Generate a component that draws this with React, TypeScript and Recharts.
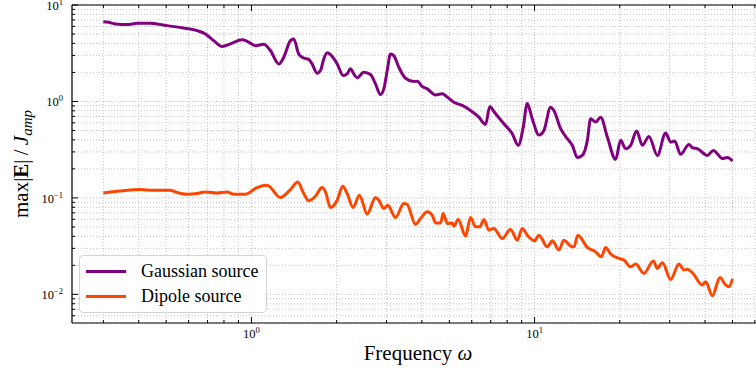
import { LineChart, Line, XAxis, YAxis, CartesianGrid, Legend } from "recharts";

// frequency sweep, Gaussian source
const gaussFreq = [
  0.30, 0.313, 0.331, 0.364, 0.395, 0.440, 0.464, 0.504, 0.576, 0.643,
  0.688, 0.736, 0.788, 0.843, 0.927, 0.966, 1.033, 1.105, 1.167, 1.249,
  1.301, 1.373, 1.411, 1.469, 1.530, 1.594, 1.638, 1.707, 1.753, 1.801,
  1.851, 1.929, 2.009, 2.109, 2.178, 2.238, 2.299, 2.363, 2.494, 2.634,
  2.743, 2.856, 2.935, 3.017, 3.099, 3.183, 3.316, 3.501, 3.746, 3.851,
  4.011, 4.177, 4.468, 4.720, 4.916, 5.186, 5.553, 5.941, 6.357, 6.712,
  6.950, 7.180, 7.790, 8.340, 8.760, 9.120, 9.420, 9.810, 10.36, 10.79,
  11.39, 11.70, 12.36, 13.05, 13.59, 14.16, 14.74, 15.36, 15.77, 16.43,
  17.11, 18.07, 19.33, 20.13, 20.97, 21.84, 22.93, 24.02, 25.35, 27.14,
  29.03, 30.24, 31.24, 32.80, 35.09, 36.08, 37.58, 40.76, 42.80, 46.06,
  47.97, 50.0,
];
const gaussAmp = [
  6.72, 6.61, 6.36, 6.26, 6.45, 6.45, 6.36, 6.11, 5.78, 5.42,
  5.01, 4.27, 3.71, 3.95, 4.35, 4.20, 3.79, 3.91, 3.37, 2.45,
  2.87, 4.27, 4.45, 3.11, 2.82, 2.73, 2.45, 1.96, 2.09, 2.76,
  3.19, 2.92, 2.45, 1.86, 1.93, 2.18, 1.93, 1.76, 2.01, 1.90,
  1.52, 1.18, 1.35, 2.09, 3.11, 2.99, 2.26, 1.74, 1.61, 1.62,
  1.43, 1.35, 1.17, 1.20, 1.11, 0.983, 0.909, 0.807, 0.688, 0.578,
  0.888, 0.788, 0.588, 0.463, 0.351, 0.542, 0.953, 0.663, 0.450, 0.501,
  0.873, 0.807, 0.522, 0.411, 0.351, 0.262, 0.276, 0.395, 0.663, 0.611,
  0.688, 0.427, 0.251, 0.395, 0.324, 0.351, 0.493, 0.351, 0.434, 0.276,
  0.470, 0.379, 0.388, 0.283, 0.359, 0.332, 0.324, 0.276, 0.311, 0.256,
  0.262, 0.241,
];

// frequency sweep, dipole source
const dipoleFreq = [
  0.30, 0.344, 0.405, 0.452, 0.517, 0.539, 0.593, 0.643, 0.688, 0.757,
  0.821, 0.866, 0.952, 1.047, 1.136, 1.266, 1.373, 1.457, 1.530, 1.594,
  1.683, 1.777, 1.826, 1.902, 2.009, 2.102, 2.178, 2.288, 2.407, 2.564,
  2.743, 2.818, 2.935, 3.031, 3.228, 3.453, 3.549, 3.798, 3.956, 4.177,
  4.350, 4.468, 4.655, 4.758, 4.916, 5.120, 5.186, 5.376, 5.705, 5.941,
  6.187, 6.408, 6.620, 6.896, 7.180, 7.690, 8.227, 8.688, 9.050, 9.420,
  10.0, 10.36, 11.09, 11.55, 12.19, 12.69, 13.41, 13.77, 14.22, 15.36,
  16.43, 17.21, 17.82, 18.56, 19.86, 20.68, 21.84, 22.75, 24.33, 26.27,
  27.14, 28.27, 30.24, 32.35, 33.70, 34.64, 36.08, 39.14, 40.20, 42.46,
  45.16, 47.30, 48.60, 50.0,
];
const dipoleAmp = [
  0.1126, 0.1181, 0.1221, 0.1202, 0.1202, 0.1153, 0.1092, 0.1110, 0.1153, 0.1126,
  0.1153, 0.1092, 0.1092, 0.1281, 0.1353, 0.1009, 0.1221, 0.1464, 0.1110, 0.0935,
  0.1041, 0.1281, 0.1153, 0.0796, 0.0947, 0.1321, 0.1110, 0.0796, 0.1066, 0.0679,
  0.1009, 0.0947, 0.0777, 0.0841, 0.0627, 0.0875, 0.0855, 0.0531, 0.0612, 0.0717,
  0.0662, 0.0551, 0.0551, 0.0690, 0.0543, 0.0551, 0.0510, 0.0598, 0.0402, 0.0627,
  0.0501, 0.0501, 0.0598, 0.0463, 0.0483, 0.0380, 0.0471, 0.0365, 0.0483, 0.0411,
  0.0359, 0.0411, 0.0311, 0.0359, 0.0288, 0.0365, 0.0317, 0.0311, 0.0411, 0.0307,
  0.0276, 0.0245, 0.0307, 0.0262, 0.0236, 0.0227, 0.0193, 0.0206, 0.0165, 0.0222,
  0.0186, 0.0213, 0.0143, 0.0206, 0.0179, 0.0182, 0.0168, 0.0125, 0.0135, 0.0097,
  0.0150, 0.0125, 0.0120, 0.0145,
];

const seriesNames = ["Gaussian source", "Dipole source"];

const xMajor = [1, 10];
const xMinor = [0.3, 0.4, 0.5, 0.6, 0.7, 0.8, 0.9, 2, 3, 4, 5, 6, 7, 8, 9, 20, 30, 40, 50, 60];
const yMajor = [0.01, 0.1, 1, 10];
const yMinor = [
  0.006, 0.007, 0.008, 0.009,
  0.02, 0.03, 0.04, 0.05, 0.06, 0.07, 0.08, 0.09,
  0.2, 0.3, 0.4, 0.5, 0.6, 0.7, 0.8, 0.9,
  2, 3, 4, 5, 6, 7, 8, 9,
];

const xDomain = [0.2325, 64.6];
const yDomain = [0.00505, 10];

const gaussData = gaussFreq.map((w, i) => ({ w, amp: gaussAmp[i] }));
const dipoleData = dipoleFreq.map((w, i) => ({ w, amp: dipoleAmp[i] }));
const xTicks = [...xMinor, ...xMajor].sort((a, b) => a - b);
const yTicks = [...yMinor, ...yMajor].sort((a, b) => a - b);

const FONT = '"Liberation Serif", "Times New Roman", serif';
const MAJOR_LEN = 6;
const MINOR_LEN = 3;

const isMajor = (v: number, majors: number[]) => majors.some((m) => Math.abs(m - v) < 1e-9);
const expLabel = (v: number) => {
  const e = Math.round(Math.log10(v));
  return e < 0 ? `\u2212${-e}` : `${e}`;
};

function BottomTick({ x, y, payload }: any) {
  const major = isMajor(payload.value, xMajor);
  return (
    <g>
      <line x1={x} x2={x} y1={y} y2={y - (major ? MAJOR_LEN : MINOR_LEN)} stroke="#000" strokeWidth={1} />
      {major && (
        <text x={x} y={y + 15} textAnchor="middle" fontFamily={FONT} fontSize={12.5} fill="#000">
          10
          <tspan dy={-5} fontSize={8.5}>{expLabel(payload.value)}</tspan>
        </text>
      )}
    </g>
  );
}

function TopTick({ x, y, payload }: any) {
  const major = isMajor(payload.value, xMajor);
  return <line x1={x} x2={x} y1={y} y2={y + (major ? MAJOR_LEN : MINOR_LEN)} stroke="#000" strokeWidth={1} />;
}

function LeftTick({ x, y, payload }: any) {
  const major = isMajor(payload.value, yMajor);
  return (
    <g>
      <line x1={x} x2={x + (major ? MAJOR_LEN : MINOR_LEN)} y1={y} y2={y} stroke="#000" strokeWidth={1} />
      {major && (
        <text x={x - 9} y={y + 5} textAnchor="end" fontFamily={FONT} fontSize={12.5} fill="#000">
          10
          <tspan dy={-5} fontSize={8.5}>{expLabel(payload.value)}</tspan>
        </text>
      )}
    </g>
  );
}

function YTitle({ viewBox }: any) {
  const cx = viewBox.x + 28;
  const cy = viewBox.y + viewBox.height / 2;
  return (
    <text transform={`translate(${cx},${cy}) rotate(-90)`} textAnchor="middle" fontFamily={FONT} fontSize={21} fill="#000">
      max|<tspan fontWeight="bold">E</tspan>|{"\u2009/\u2009"}<tspan fontStyle="italic">J</tspan>
      <tspan fontStyle="italic" fontSize={15} dy={4}>amp</tspan>
    </text>
  );
}

function XTitle({ viewBox }: any) {
  const cx = viewBox.x + viewBox.width / 2;
  return (
    <text x={cx} y={viewBox.y + 37} textAnchor="middle" fontFamily={FONT} fontSize={21} fill="#000">
      Frequency <tspan fontStyle="italic">ω</tspan>
    </text>
  );
}

function LegendBox({ payload }: any) {
  return (
    <div
      style={{
        width: 186,
        height: 56,
        border: "1px solid #d4d4d4",
        borderRadius: 4,
        background: "rgba(255,255,255,0.85)",
        fontFamily: FONT,
        fontSize: 18,
        color: "#000",
        boxSizing: "content-box",
      }}
    >
      {(payload || []).map((entry: any, i: number) => (
        <div key={i} style={{ position: "relative", height: 25, marginTop: i === 0 ? 3 : 0 }}>
          <div style={{ position: "absolute", left: 6, top: 11, width: 40, height: 3, background: entry.color }} />
          <span style={{ position: "absolute", left: 61, top: 0, lineHeight: "24px", whiteSpace: "nowrap" }}>{entry.value}</span>
        </div>
      ))}
    </div>
  );
}

export default function App() {
  return (
    <div style={{ position: "absolute", left: 0, top: 0, width: 756, height: 376, overflow: "hidden", background: "#fff" }}>
      <LineChart width={764} height={376} margin={{ top: 0, right: 0, bottom: 0, left: 0 }}>
        <CartesianGrid stroke="#c4c4c4" strokeDasharray="1 2" strokeWidth={1} />
        <XAxis
          dataKey="w"
          type="number"
          scale="log"
          domain={xDomain}
          allowDataOverflow
          ticks={xTicks}
          interval={0}
          height={53}
          tickSize={0}
          tickMargin={0}
          tickLine={false}
          tick={<BottomTick />}
          axisLine={{ stroke: "#000", strokeWidth: 1.2 }}
          label={<XTitle />}
        />
        <XAxis
          xAxisId="top"
          orientation="top"
          dataKey="w"
          type="number"
          scale="log"
          domain={xDomain}
          allowDataOverflow
          ticks={xTicks}
          interval={0}
          height={5}
          tickSize={0}
          tickMargin={0}
          tickLine={false}
          tick={<TopTick />}
          axisLine={{ stroke: "#000", strokeWidth: 1.2 }}
        />
        <YAxis
          type="number"
          scale="log"
          domain={yDomain}
          allowDataOverflow
          ticks={yTicks}
          interval={0}
          width={72}
          tickSize={0}
          tickMargin={0}
          tickLine={false}
          tick={<LeftTick />}
          axisLine={{ stroke: "#000", strokeWidth: 1.2 }}
          label={<YTitle />}
        />
        <Legend
          layout="vertical"
          verticalAlign="middle"
          align="center"
          itemSorter={(item: any) => seriesNames.indexOf(item.value)}
          wrapperStyle={{ left: 79, top: 255, width: 188 }}
          content={<LegendBox />}
        />
        <Line
          data={gaussData}
          dataKey="amp"
          name={seriesNames[0]}
          type="monotone"
          stroke="#800080"
          strokeWidth={3}
          dot={false}
          isAnimationActive={false}
        />
        <Line
          data={dipoleData}
          dataKey="amp"
          name={seriesNames[1]}
          type="monotone"
          stroke="#ff4500"
          strokeWidth={3}
          dot={false}
          isAnimationActive={false}
        />
      </LineChart>
    </div>
  );
}
